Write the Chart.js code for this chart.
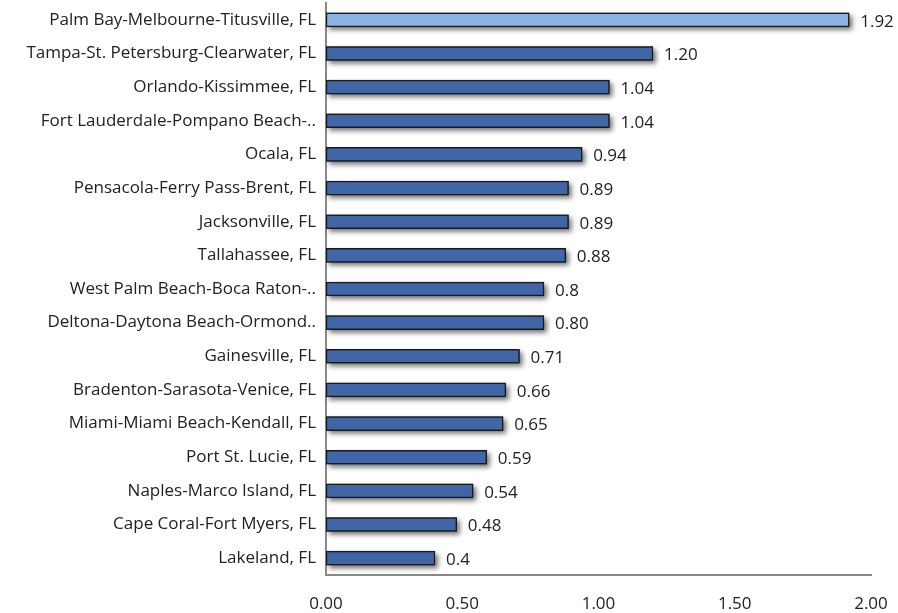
<!DOCTYPE html>
<html>
<head>
<meta charset="utf-8">
<script src="https://cdn.jsdelivr.net/npm/chart.js@4"></script>
<style>
  html, body { margin: 0; padding: 0; background: #fff; }
  #wrap { width: 898px; height: 613px; }
</style>
</head>
<body>
<div id="wrap"><canvas id="chart" width="898" height="613"></canvas></div>
<script>
// areas, values, and the label text exactly as printed
const areas = [
    "Palm Bay-Melbourne-Titusville, FL",
    "Tampa-St. Petersburg-Clearwater, FL",
    "Orlando-Kissimmee, FL",
    "Fort Lauderdale-Pompano Beach-..",
    "Ocala, FL",
    "Pensacola-Ferry Pass-Brent, FL",
    "Jacksonville, FL",
    "Tallahassee, FL",
    "West Palm Beach-Boca Raton-..",
    "Deltona-Daytona Beach-Ormond..",
    "Gainesville, FL",
    "Bradenton-Sarasota-Venice, FL",
    "Miami-Miami Beach-Kendall, FL",
    "Port St. Lucie, FL",
    "Naples-Marco Island, FL",
    "Cape Coral-Fort Myers, FL",
    "Lakeland, FL"
];
const valores = [1.92, 1.20, 1.04, 1.04, 0.94, 0.89, 0.89, 0.88, 0.8, 0.80, 0.71, 0.66, 0.65, 0.59, 0.54, 0.48, 0.4];
const etiquetas = ["1.92", "1.20", "1.04", "1.04", "0.94", "0.89", "0.89", "0.88", "0.8", "0.80", "0.71", "0.66", "0.65", "0.59", "0.54", "0.48", "0.4"];
const xTicks = [0, 0.5, 1, 1.5, 2];

const FONT = "'Open Sans', Lato, sans-serif";

/* sin márgenes automáticos de los ejes */
function sinPadding(axis) {
    axis.paddingTop = 0;
    axis.paddingBottom = 0;
    axis.paddingLeft = 0;
    axis.paddingRight = 0;
}

/* sombra de las barras: se pinta antes que las barras */
const shadowPlugin = {
    id: "barShadow",
    beforeDatasetsDraw(chart) {
        const c = chart.ctx;
        const meta = chart.getDatasetMeta(0);
        c.save();
        c.shadowColor = "rgba(0,0,0,0.55)";
        c.shadowBlur = 5;
        c.shadowOffsetX = 3;
        c.shadowOffsetY = 3;
        c.fillStyle = "#333";
        meta.data.forEach(bar => {
            const h = bar.height;
            c.fillRect(bar.base, bar.y - h / 2, bar.x - bar.base, h);
        });
        c.restore();
    }
};

/* etiquetas de valor */
const labelPlugin = {
    id: "valueLabels",
    afterDatasetsDraw(chart) {
        const c = chart.ctx;
        const meta = chart.getDatasetMeta(0);
        c.save();
        c.font = "17px " + FONT;
        c.fillStyle = "#222";
        c.textAlign = "left";
        c.textBaseline = "middle";
        meta.data.forEach((bar, i) => {
            c.fillText(etiquetas[i], bar.x + 11, bar.y + 2);
        });
        c.restore();
    }
};

new Chart(document.getElementById("chart"), {
    type: "bar",
    data: {
        labels: areas,
        datasets: [{
            data: valores,
            backgroundColor: valores.map((v, i) => i === 0 ? "#8db3e2" : "#4166a8"),
            borderColor: "#1a1a1a",
            borderWidth: 1.5,
            borderSkipped: false,
            barThickness: 14
        }]
    },
    options: {
        indexAxis: "y",
        responsive: false,
        animation: false,
        layout: { padding: { top: 3, right: 27, left: 0, bottom: 0 } },
        plugins: { legend: { display: false }, tooltip: { enabled: false } },
        scales: {
            x: {
                min: 0,
                max: 2,
                afterBuildTicks(axis) { axis.ticks = xTicks.map(v => ({ value: v })); },
                afterFit(axis) { axis.height = 38; sinPadding(axis); },
                grid: { display: false, drawTicks: false },
                border: { display: true, color: "#888", width: 2 },
                ticks: {
                    color: "#222",
                    font: { family: FONT, size: 17 },
                    padding: 19,
                    maxRotation: 0,
                    callback: v => Number(v).toFixed(2)
                }
            },
            y: {
                afterFit(axis) { axis.width = 326; sinPadding(axis); },
                grid: { display: false, drawTicks: false },
                border: { display: true, color: "#888", width: 2 },
                ticks: {
                    color: "#222",
                    font: { family: FONT, size: 17 },
                    padding: 10
                }
            }
        }
    },
    plugins: [shadowPlugin, labelPlugin]
});
</script>
</body>
</html>
